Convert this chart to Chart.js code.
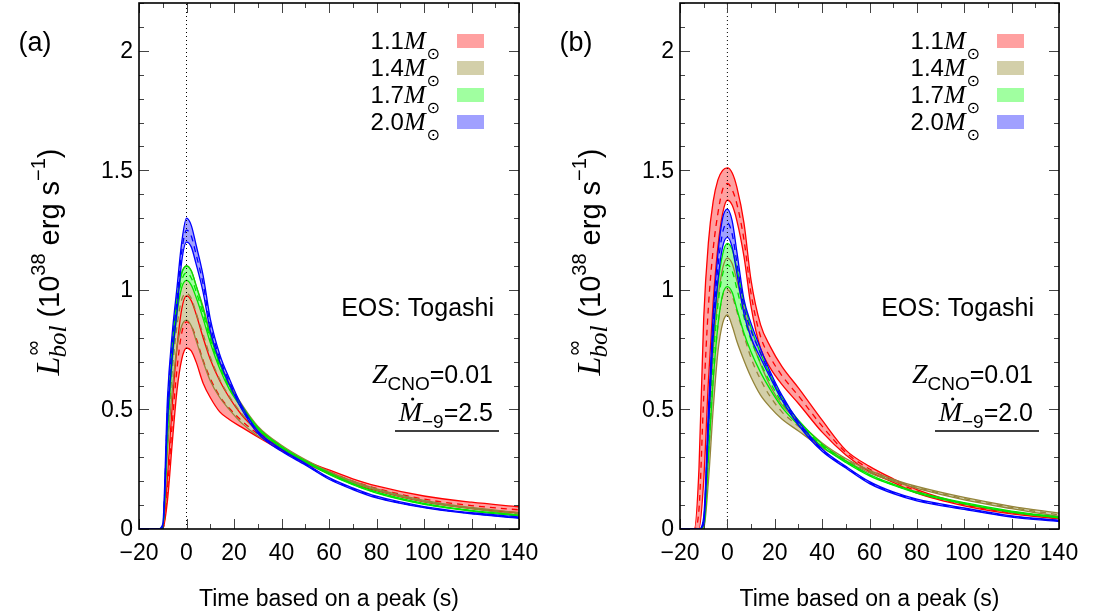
<!DOCTYPE html>
<html>
<head>
<meta charset="utf-8">
<script src="https://cdn.jsdelivr.net/npm/chart.js@4.4.0/dist/chart.umd.min.js"></script>
<style>
html, body { margin: 0; padding: 0; background: #fff; }
#wrap { position: relative; width: 1093px; height: 616px; overflow: hidden; }
canvas { position: absolute; top: 0; }
</style>
</head>
<body>
<div id="wrap">
  <canvas id="panelA" width="540" height="616" style="left:0"></canvas>
  <canvas id="panelB" width="553" height="616" style="left:540px"></canvas>
</div>
<script>
// time grid (s), shared by every curve
var times = [-20, -14, -12, -10, -8, -6, -4, -2, 0, 2, 4, 7, 10, 14, 18, 23, 30, 40, 50, 60, 70, 80, 100, 120, 140];

// panel (a), Mdot_-9 = 2.5 : upper / central / lower edge of each band
var aRedHi   = [0,0,0,0,0.22,0.52,0.76,0.92,0.975,0.955,0.90,0.80,0.71,0.62,0.55,0.48,0.41,0.335,0.285,0.247,0.21,0.18,0.138,0.112,0.093];
var aRedMid  = [0,0,0,0,0.17,0.44,0.67,0.82,0.866,0.85,0.80,0.705,0.63,0.555,0.505,0.455,0.398,0.332,0.28,0.24,0.2,0.17,0.125,0.098,0.08];
var aRedLo   = [0,0,0,0,0.12,0.36,0.58,0.71,0.757,0.745,0.70,0.61,0.55,0.49,0.458,0.427,0.385,0.328,0.275,0.232,0.19,0.16,0.113,0.085,0.068];
var aOlvHi   = [0,0,0,0,0.44,0.74,0.95,1.07,1.10,1.08,1.02,0.93,0.82,0.70,0.61,0.525,0.43,0.35,0.29,0.24,0.2,0.168,0.12,0.09,0.068];
var aOlvMid  = [0,0,0,0,0.38,0.66,0.85,0.96,0.985,0.965,0.905,0.815,0.72,0.625,0.555,0.485,0.41,0.342,0.285,0.238,0.198,0.165,0.117,0.087,0.063];
var aOlvLo   = [0,0,0,0,0.32,0.58,0.76,0.85,0.874,0.85,0.79,0.70,0.62,0.55,0.50,0.445,0.39,0.335,0.28,0.235,0.195,0.163,0.115,0.085,0.058];
var aGrnHi   = [0,0,0,0.01,0.46,0.76,0.96,1.07,1.10,1.08,1.02,0.92,0.81,0.69,0.60,0.52,0.425,0.345,0.285,0.235,0.19,0.155,0.107,0.078,0.058];
var aGrnMid  = [0,0,0,0.005,0.43,0.73,0.93,1.04,1.072,1.05,0.995,0.90,0.795,0.68,0.593,0.515,0.421,0.342,0.282,0.231,0.187,0.152,0.105,0.076,0.056];
var aGrnLo   = [0,0,0,0,0.40,0.70,0.90,1.01,1.04,1.02,0.97,0.88,0.78,0.67,0.585,0.51,0.418,0.34,0.28,0.228,0.185,0.15,0.103,0.075,0.054];
var aBluHi   = [0,0,0,0.02,0.55,0.82,1.01,1.20,1.30,1.27,1.19,1.06,0.88,0.73,0.63,0.52,0.41,0.333,0.275,0.215,0.172,0.137,0.094,0.068,0.05];
var aBluMid  = [0,0,0,0.01,0.50,0.77,0.96,1.16,1.25,1.225,1.15,1.025,0.855,0.715,0.618,0.512,0.405,0.329,0.271,0.211,0.168,0.133,0.091,0.065,0.047];
var aBluLo   = [0,0,0,0,0.45,0.72,0.91,1.12,1.20,1.18,1.11,0.99,0.83,0.70,0.605,0.505,0.40,0.325,0.268,0.208,0.165,0.13,0.089,0.063,0.045];

// panel (b), Mdot_-9 = 2.0
var bRedHi   = [0,0,0.25,0.88,1.20,1.37,1.46,1.50,1.51,1.49,1.43,1.28,1.04,0.855,0.765,0.68,0.59,0.455,0.33,0.262,0.21,0.165,0.105,0.07,0.048];
var bRedMid  = [0,0,0.08,0.55,0.93,1.17,1.32,1.42,1.445,1.42,1.36,1.21,0.985,0.805,0.72,0.642,0.557,0.43,0.32,0.251,0.203,0.158,0.101,0.067,0.045];
var bRedLo   = [0,0,0,0.2,0.62,0.95,1.18,1.32,1.375,1.355,1.29,1.14,0.93,0.755,0.675,0.605,0.525,0.405,0.31,0.24,0.195,0.15,0.097,0.063,0.042];
var bOlvHi   = [0,0,0,0.02,0.40,0.74,0.96,1.09,1.133,1.11,1.04,0.92,0.80,0.69,0.60,0.52,0.45,0.36,0.295,0.245,0.208,0.178,0.132,0.095,0.066];
var bOlvMid  = [0,0,0,0.01,0.30,0.62,0.85,0.975,1.0,0.975,0.91,0.81,0.715,0.625,0.555,0.49,0.43,0.35,0.29,0.24,0.204,0.174,0.127,0.09,0.059];
var bOlvLo   = [0,0,0,0,0.20,0.50,0.74,0.86,0.895,0.85,0.785,0.705,0.635,0.56,0.51,0.46,0.41,0.34,0.285,0.235,0.2,0.17,0.122,0.085,0.052];
var bGrnHi   = [0,0,0,0.03,0.45,0.80,1.02,1.15,1.195,1.17,1.09,0.95,0.84,0.735,0.645,0.55,0.455,0.355,0.285,0.228,0.188,0.155,0.11,0.075,0.05];
var bGrnMid  = [0,0,0,0.015,0.375,0.71,0.935,1.065,1.105,1.08,1.005,0.885,0.79,0.695,0.615,0.53,0.445,0.35,0.281,0.225,0.185,0.152,0.107,0.072,0.048];
var bGrnLo   = [0,0,0,0,0.30,0.62,0.85,0.98,1.014,0.99,0.92,0.82,0.74,0.655,0.585,0.51,0.435,0.345,0.278,0.222,0.183,0.15,0.105,0.07,0.046];
var bBluHi   = [0,0,0,0.05,0.50,0.90,1.15,1.30,1.338,1.29,1.16,0.96,0.86,0.755,0.66,0.56,0.45,0.335,0.262,0.198,0.155,0.125,0.088,0.055,0.036];
var bBluMid  = [0,0,0,0.035,0.46,0.85,1.095,1.24,1.28,1.235,1.115,0.93,0.83,0.735,0.648,0.55,0.443,0.33,0.258,0.194,0.152,0.122,0.085,0.053,0.034];
var bBluLo   = [0,0,0,0.02,0.42,0.80,1.04,1.18,1.22,1.18,1.07,0.90,0.80,0.715,0.635,0.54,0.435,0.325,0.255,0.19,0.148,0.118,0.082,0.05,0.031];

var massLabels  = ['1.1', '1.4', '1.7', '2.0'];
var xTicks      = [-20, 0, 20, 40, 60, 80, 100, 120, 140];
var xTickLabels = ['\u221220', '0', '20', '40', '60', '80', '100', '120', '140'];
var yTicks      = [0, 0.5, 1, 1.5, 2];
var yTickLabels = ['0', '0.5', '1', '1.5', '2'];

var LINE = { red: '#ff0000', olive: '#94843a', green: '#00e600', blue: '#0000ff' };
var FILL = { red: '#ffa0a0', olive: '#d3cfa9', green: '#a0ffa0', blue: '#a0a0ff' };
var SANS = '"Liberation Sans", Arial, sans-serif';
var SERIF = '"Liberation Serif", "Times New Roman", serif';

function sans(px) { return px + 'px ' + SANS; }
function serifI(px) { return 'italic ' + px + 'px ' + SERIF; }

function pts(vals) {
    return times.map(function (t, i) { return { x: t, y: vals[i] }; });
}

function band(hi, mid, lo, key) {
    return [
        { data: pts(lo), borderColor: LINE[key], fill: false },
        { data: pts(hi), borderColor: LINE[key], backgroundColor: FILL[key], fill: '-1' },
        { data: pts(mid), borderColor: LINE[key], borderDash: [6, 5], fill: false }
    ];
}

function zeroLine() {
    return { data: [{ x: 0, y: 0 }, { x: 0, y: 2.2 }], borderColor: '#000', borderWidth: 1,
        borderDash: [1, 3], fill: false, cubicInterpolationMode: 'default', tension: 0 };
}

function richWidth(ctx, parts) {
    var w = 0;
    parts.forEach(function (p) {
        ctx.font = p.font;
        if (!p.stack) w += ctx.measureText(p.t).width + (p.dx || 0);
    });
    return w;
}

function drawRich(ctx, parts, x, y, align) {
    var w = richWidth(ctx, parts);
    var cx = align === 'right' ? x - w : (align === 'center' ? x - w / 2 : x);
    ctx.textAlign = 'left';
    ctx.textBaseline = 'alphabetic';
    parts.forEach(function (p) {
        ctx.font = p.font;
        ctx.fillText(p.t, cx + (p.dx || 0), y + (p.dy || 0));
        var pw = ctx.measureText(p.t).width;
        if (p.dot) {
            ctx.beginPath();
            ctx.arc(cx + pw * 0.6, y - 22, 1.6, 0, Math.PI * 2);
            ctx.fill();
        }
        if (!p.stack) cx += pw + (p.dx || 0);
    });
}

function seg(ctx, x1, y1, x2, y2) {
    ctx.beginPath(); ctx.moveTo(x1, y1); ctx.lineTo(x2, y2); ctx.stroke();
}

var decor = {
    id: 'decor',
    afterDraw: function (chart, args, opts) {
        var ctx = chart.ctx, a = chart.chartArea;
        var xs = chart.scales.x, ys = chart.scales.y;
        var i, v, p;
        ctx.save();

        // inward ticks on all four sides
        ctx.strokeStyle = '#444';
        ctx.lineWidth = 1;
        for (v = -20; v <= 140; v += 10) {
            p = Math.round(xs.getPixelForValue(v)) + 0.5;
            var lx = (v % 20 === 0) ? 10 : 5;
            seg(ctx, p, a.bottom, p, a.bottom - lx);
            seg(ctx, p, a.top, p, a.top + lx);
        }
        for (i = 0; i <= 22; i++) {
            v = i / 10;
            p = Math.round(ys.getPixelForValue(v)) + 0.5;
            var ly = (i % 5 === 0) ? 10 : 5;
            seg(ctx, a.left, p, a.left + ly, p);
            seg(ctx, a.right, p, a.right - ly, p);
        }

        // frame
        ctx.strokeStyle = '#000';
        ctx.lineWidth = 1.6;
        ctx.strokeRect(a.left, a.top, a.right - a.left, a.bottom - a.top);

        // tick labels
        ctx.fillStyle = '#000';
        ctx.font = sans(23);
        ctx.textAlign = 'center';
        ctx.textBaseline = 'alphabetic';
        xTicks.forEach(function (t, k) { ctx.fillText(xTickLabels[k], xs.getPixelForValue(t), a.bottom + 31); });
        ctx.textAlign = 'right';
        ctx.textBaseline = 'middle';
        yTicks.forEach(function (t, k) { ctx.fillText(yTickLabels[k], a.left - 6, ys.getPixelForValue(t) + 1); });

        // axis titles
        ctx.textAlign = 'center';
        ctx.textBaseline = 'alphabetic';
        ctx.fillText('Time based on a peak (s)', (a.left + a.right) / 2, a.bottom + 77);

        ctx.save();
        ctx.translate(a.left - 80, a.top + 259);
        ctx.rotate(-Math.PI / 2);
        drawRich(ctx, [
            { t: 'L', font: serifI(34) },
            { t: '\u221e', font: sans(21), dy: -19, dx: 1, stack: true },
            { t: 'bol', font: serifI(25), dy: 7, dx: -1 },
            { t: ' (10', font: sans(29) },
            { t: '38', font: sans(20), dy: -14 },
            { t: ' erg s', font: sans(29) },
            { t: '\u22121', font: sans(20), dy: -14 },
            { t: ')', font: sans(29) }
        ], 0, 0, 'center');
        ctx.restore();

        // panel label
        ctx.font = sans(27);
        ctx.textAlign = 'center';
        ctx.fillText(opts.label, a.left - 104, a.top + 48);

        // legend
        var colors = ['red', 'olive', 'green', 'blue'];
        for (i = 0; i < 4; i++) {
            var ry = a.top + 38 + i * 27;
            ctx.fillStyle = FILL[colors[i]];
            ctx.fillRect(a.right - 62, ry - 7, 27, 14);
            ctx.fillStyle = '#000';
            drawRich(ctx, [
                { t: massLabels[i], font: sans(24) },
                { t: 'M', font: serifI(26) },
                { t: '\u2299', font: '16px "DejaVu Sans", sans-serif', dy: 10, dx: 1 }
            ], a.right - 79, ry + 8, 'right');
        }

        // annotations
        ctx.fillStyle = '#000';
        ctx.font = sans(25);
        ctx.textAlign = 'right';
        ctx.textBaseline = 'alphabetic';
        ctx.fillText('EOS: Togashi', a.right - 25, a.top + 313);
        drawRich(ctx, [
            { t: 'Z', font: serifI(28) },
            { t: 'CNO', font: sans(19), dy: 7 },
            { t: '=0.01', font: sans(25) }
        ], a.right - 26, a.top + 380, 'right');
        drawRich(ctx, [
            { t: 'M', font: serifI(28), dot: true },
            { t: '\u22129', font: sans(19), dy: 7 },
            { t: '=' + opts.mdot, font: sans(25) }
        ], a.right - 26, a.top + 418, 'right');
        ctx.strokeStyle = '#000';
        ctx.lineWidth = 1.5;
        seg(ctx, a.right - 124, a.top + 428, a.right - 20, a.top + 428);

        ctx.restore();
    }
};

function makePanel(id, sets, padLeft, padRight, label, mdot) {
    // blue band first so that its fill is painted on top, red band last (bottom)
    var datasets = [zeroLine()]
        .concat(band(sets[6], sets[7], sets[8], 'blue'))
        .concat(band(sets[4], sets[5], sets[9], 'green'))
        .concat(band(sets[2], sets[3], sets[10], 'olive'))
        .concat(band(sets[0], sets[1], sets[11], 'red'));
    return new Chart(document.getElementById(id), {
        type: 'line',
        data: { datasets: datasets },
        options: {
            responsive: false,
            animation: false,
            layout: { padding: { left: padLeft, right: padRight, top: 3, bottom: 87 } },
            scales: {
                x: { type: 'linear', min: -20, max: 140, display: false },
                y: { type: 'linear', min: 0, max: 2.2, display: false }
            },
            elements: {
                point: { radius: 0, hoverRadius: 0 },
                line: { borderWidth: 1.3, cubicInterpolationMode: 'monotone' }
            },
            plugins: {
                legend: { display: false },
                tooltip: { enabled: false },
                filler: { drawTime: 'beforeDatasetsDraw', propagate: false },
                decor: { label: label, mdot: mdot }
            }
        },
        plugins: [decor]
    });
}

makePanel('panelA',
    [aRedHi, aRedMid, aOlvHi, aOlvMid, aGrnHi, aGrnMid, aBluHi, aBluMid, aBluLo, aGrnLo, aOlvLo, aRedLo],
    139, 21, '(a)', '2.5');
makePanel('panelB',
    [bRedHi, bRedMid, bOlvHi, bOlvMid, bGrnHi, bGrnMid, bBluHi, bBluMid, bBluLo, bGrnLo, bOlvLo, bRedLo],
    140, 34, '(b)', '2.0');
</script>
</body>
</html>
